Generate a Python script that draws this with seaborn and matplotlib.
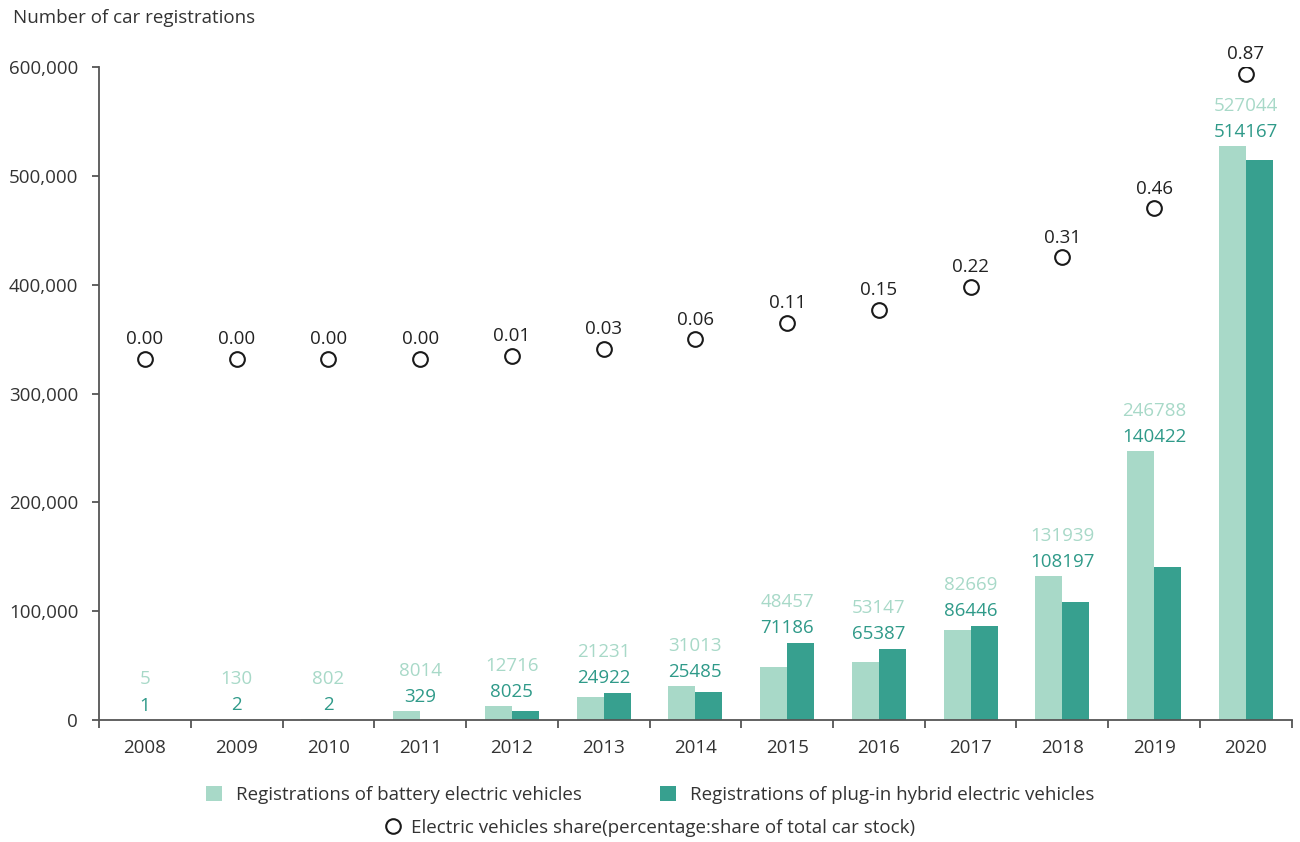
import numpy as np
import pandas as pd
import matplotlib
matplotlib.use("Agg")
import matplotlib.pyplot as plt
from matplotlib.patches import Patch
from matplotlib.lines import Line2D
from matplotlib.ticker import FuncFormatter
import seaborn as sns

# ---- data ----
years = ["2008", "2009", "2010", "2011", "2012", "2013", "2014",
         "2015", "2016", "2017", "2018", "2019", "2020"]
bev = [5, 130, 802, 8014, 12716, 21231, 31013, 48457, 53147, 82669, 131939, 246788, 527044]
phev = [1, 2, 2, 329, 8025, 24922, 25485, 71186, 65387, 86446, 108197, 140422, 514167]
share = [0.00, 0.00, 0.00, 0.00, 0.01, 0.03, 0.06, 0.11, 0.15, 0.22, 0.31, 0.46, 0.87]
share_labels = ["0.00", "0.00", "0.00", "0.00", "0.01", "0.03", "0.06",
                "0.11", "0.15", "0.22", "0.31", "0.46", "0.87"]

bev_name = "Registrations of battery electric vehicles"
phev_name = "Registrations of plug-in hybrid electric vehicles"
share_name = "Electric vehicles share(percentage:share of total car stock)"

LIGHT = "#a8d9c8"
DARK = "#37a08f"
LIGHT_TXT = "#a8d9c8"
DARK_TXT = "#2f9a89"
TXT = "#333333"
AX = "#555555"
FS = 13.5

df = pd.DataFrame({
    "year": years * 2,
    "type": [bev_name] * len(years) + [phev_name] * len(years),
    "value": bev + phev,
})

sns.set_style("white")
plt.rcParams["font.family"] = ["Open Sans", "DejaVu Sans"]

fig = plt.figure(figsize=(13, 8.42), dpi=100)
ax = fig.add_subplot(111)
fig.subplots_adjust(left=0.0762, right=0.9936, top=0.9204, bottom=0.1449)

sns.barplot(data=df, x="year", y="value", hue="type", order=years,
            hue_order=[bev_name, phev_name], palette=[LIGHT, DARK],
            width=0.59, gap=0, saturation=1, linewidth=0, legend=False, ax=ax)

ax.set_ylim(0, 600000)
ax.set_yticks(np.arange(0, 600001, 100000))
ax.yaxis.set_major_formatter(FuncFormatter(lambda v, p: f"{v:,.0f}"))
ax.set_xlabel("")
ax.set_ylabel("")

for s in ["top", "right"]:
    ax.spines[s].set_visible(False)
for s in ["left", "bottom"]:
    ax.spines[s].set_color(AX)
    ax.spines[s].set_linewidth(1.3)

ax.set_xticks(np.arange(-0.5, len(years), 1), minor=True)
ax.tick_params(axis="x", which="major", length=0, pad=14, labelsize=FS, labelcolor=TXT)
ax.tick_params(axis="x", which="minor", length=6, width=1.3, color=AX, direction="out", bottom=True)
ax.tick_params(axis="y", which="major", length=5, width=1.3, color=AX, direction="out",
               pad=10, labelsize=FS, labelcolor=TXT, left=True)

# bar value labels
for i in range(len(years)):
    top = max(bev[i], phev[i])
    ax.annotate(str(phev[i]), (i, top), xytext=(0, 6.8), textcoords="offset points",
                ha="center", va="baseline", fontsize=FS, color=DARK_TXT)
    ax.annotate(str(bev[i]), (i, top), xytext=(0, 25.6), textcoords="offset points",
                ha="center", va="baseline", fontsize=FS, color=LIGHT_TXT)

# share on a hidden secondary axis
ax2 = ax.twinx()
xs = np.arange(len(years))
sns.scatterplot(x=xs, y=share, ax=ax2, s=112, facecolor="white", edgecolor="#1a1a1a",
                linewidth=1.5, zorder=5, legend=False)
ax2.set_ylim(-1.102, 0.891)
ax2.set_yticks([])
ax2.set_ylabel("")
for s in ax2.spines.values():
    s.set_visible(False)
for i in range(len(years)):
    ax2.annotate(share_labels[i], (i, share[i]), xytext=(0, 10.6), textcoords="offset points",
                 ha="center", va="baseline", fontsize=FS, color="#222222")
ax.set_xlim(-0.5, len(years) - 0.5)

fig.text(13 / 1300, 1 - 18 / 842, "Number of car registrations", ha="left", va="center",
         fontsize=FS, color=TXT)

h1 = [Patch(facecolor=LIGHT, edgecolor="none", label=bev_name),
      Patch(facecolor=DARK, edgecolor="none", label=phev_name)]
leg1 = fig.legend(handles=h1, loc="center", bbox_to_anchor=(0.5, 1 - 795 / 842), ncol=2,
                  frameon=False, fontsize=FS, handlelength=0.87, handleheight=0.87,
                  handletextpad=0.7, columnspacing=4.2, labelcolor=TXT)
h2 = [Line2D([], [], linestyle="none", marker="o", markersize=10.5, markerfacecolor="white",
             markeredgecolor="#1a1a1a", markeredgewidth=1.5, label=share_name)]
leg2 = fig.legend(handles=h2, loc="center", bbox_to_anchor=(0.5, 1 - 828 / 842), ncol=1,
                  frameon=False, fontsize=FS, handlelength=0.87, handletextpad=0.55,
                  labelcolor=TXT)

fig.savefig("out.png", dpi=100)
